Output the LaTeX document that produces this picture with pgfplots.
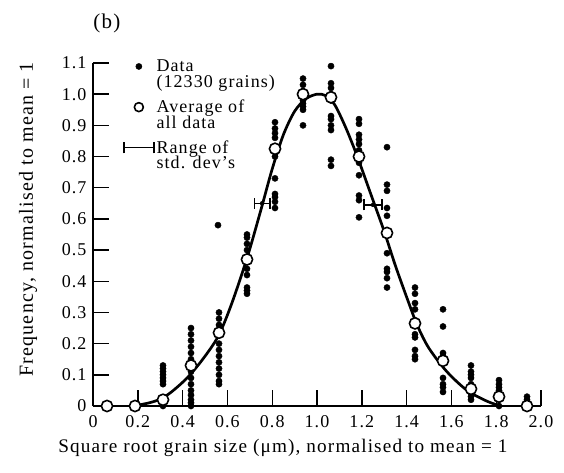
\documentclass[border=0pt]{standalone}
\usepackage{fontspec}
\setmainfont{Liberation Serif}[LetterSpace=6]
\usepackage{pgfplots}
\usepackage{pgfplotstable}
\pgfplotsset{compat=1.18}

\pgfplotstableread{
x y
0.0625 0.0
0.0625 0.005
0.1875 0.0
0.3125 0.13
0.3125 0.12
0.3125 0.11
0.3125 0.10
0.3125 0.09
0.3125 0.08
0.3125 0.07
0.3125 0.02
0.3125 0.01
0.3125 0.0
0.4375 0.25
0.4375 0.23
0.4375 0.21
0.4375 0.19
0.4375 0.17
0.4375 0.15
0.4375 0.11
0.4375 0.09
0.4375 0.07
0.4375 0.05
0.4375 0.035
0.4375 0.02
0.4375 0.01
0.4375 0.0
0.5625 0.30
0.5625 0.28
0.5625 0.26
0.5625 0.24
0.5625 0.20
0.5625 0.18
0.5625 0.16
0.5625 0.14
0.5625 0.12
0.5625 0.10
0.5625 0.08
0.5625 0.07
0.558 0.58
0.6875 0.55
0.6875 0.54
0.6875 0.52
0.6875 0.50
0.6875 0.44
0.6875 0.42
0.6875 0.38
0.6875 0.37
0.6875 0.36
0.8125 0.91
0.8125 0.89
0.8125 0.875
0.8125 0.86
0.8125 0.80
0.8125 0.73
0.8125 0.68
0.8125 0.67
0.8125 0.655
0.8125 0.635
0.9375 1.05
0.9375 1.03
0.9375 1.01
0.9375 0.98
0.9375 0.97
0.9375 0.96
0.9375 0.95
0.9375 0.90
1.0625 1.09
1.0625 1.035
1.0625 1.02
1.0625 1.00
1.0625 0.98
1.0625 0.93
1.0625 0.92
1.0625 0.90
1.0625 0.885
1.0625 0.79
1.0625 0.77
1.1875 0.92
1.1875 0.905
1.1875 0.87
1.1875 0.855
1.1875 0.84
1.1875 0.82
1.1875 0.78
1.1875 0.74
1.1875 0.675
1.1875 0.66
1.1875 0.605
1.3125 0.83
1.3125 0.71
1.3125 0.69
1.3125 0.635
1.3125 0.61
1.3125 0.49
1.3125 0.44
1.3125 0.43
1.3125 0.41
1.3125 0.38
1.4375 0.38
1.4375 0.36
1.4375 0.33
1.4375 0.31
1.4375 0.275
1.4375 0.23
1.4375 0.22
1.4375 0.18
1.4375 0.16
1.4375 0.15
1.5625 0.31
1.5625 0.255
1.5625 0.17
1.5625 0.16
1.5625 0.14
1.5625 0.09
1.5625 0.07
1.5625 0.06
1.5625 0.045
1.6875 0.13
1.6875 0.11
1.6875 0.10
1.6875 0.09
1.6875 0.07
1.6875 0.06
1.6875 0.05
1.6875 0.04
1.6875 0.03
1.6875 0.02
1.8125 0.083
1.8125 0.07
1.8125 0.06
1.8125 0.05
1.8125 0.04
1.8125 0.03
1.8125 0.02
1.8125 0.0
1.9375 0.03
1.9375 0.02
1.9375 0.01
1.9375 0.0
}\dotdata

\pgfplotstableread{
x y
0.0625 0.0
0.1875 0.0
0.3125 0.02
0.4375 0.13
0.5625 0.235
0.6875 0.47
0.8125 0.825
0.9375 1.0
1.0625 0.99
1.1875 0.80
1.3125 0.555
1.4375 0.265
1.5625 0.145
1.6875 0.055
1.8125 0.03
1.9375 0.0
}\avgdata

\pgfplotstableread{
x y
0.18 0.0
0.25 0.01
0.30 0.022
0.35 0.045
0.42 0.09
0.49 0.15
0.56 0.225
0.62 0.33
0.69 0.48
0.75 0.63
0.80 0.76
0.85 0.87
0.90 0.945
0.95 0.985
1.00 1.0
1.04 0.995
1.08 0.965
1.13 0.89
1.18 0.80
1.24 0.68
1.30 0.56
1.35 0.45
1.41 0.33
1.45 0.255
1.50 0.185
1.58 0.11
1.67 0.05
1.76 0.015
1.82 0.0
}\curvedata

\newcommand{\twolines}[2]{\vbox{\baselineskip=15.5pt\lineskiplimit=-20pt\hbox{#1}\hbox{#2}}}

\begin{document}
\begin{tikzpicture}[x=1pt,y=1pt]
\useasboundingbox (-93,-66) rectangle (471,406);
\begin{axis}[
  at={(0,0)}, anchor=south west,
  scale only axis, width=448pt, height=343pt,
  xmin=0, xmax=2, ymin=0, ymax=1.1,
  clip=false,
  axis x line*=bottom, axis y line*=left,
  axis line style={line width=1.8pt, -},
  xtick={0,0.2,0.4,0.6,0.8,1.0,1.2,1.4,1.6,1.8,2.0},
  xticklabels={0,0.2,0.4,0.6,0.8,1.0,1.2,1.4,1.6,1.8,2.0},
  ytick={0,0.1,0.2,0.3,0.4,0.5,0.6,0.7,0.8,0.9,1.0,1.1},
  yticklabels={0,0.1,0.2,0.3,0.4,0.5,0.6,0.7,0.8,0.9,1.0,1.1},
  tick align=inside, major tick length=16pt,
  tick style={line width=1.4pt, black},
  ticklabel style={font=\fontsize{18}{18}\selectfont},
  xticklabel style={yshift=-6pt},
  yticklabel style={xshift=-3pt},
  xlabel={Square root grain size (μm), normalised to mean = 1},
  ylabel={Frequency, normalised to mean = 1},
  every axis x label/.style={at={(axis description cs:0.424,-0.137)}, anchor=base, font=\fontsize{19.2}{19.2}\selectfont},
  every axis y label/.style={at={(axis description cs:-0.134,0.544)}, rotate=90, anchor=base, font=\fontsize{20}{20}\selectfont},
  legend style={at={(axis cs:0.134,1.1097)}, anchor=north west, draw=none, fill=none,
    font=\fontsize{18}{15}\selectfont, cells={anchor=base west}, row sep=11pt,
    inner sep=0pt, column sep=2pt, nodes={inner sep=0pt}},
]
\addplot[black, line width=2.7pt, smooth, forget plot] table {\curvedata};
\addplot[only marks, mark=*, mark size=3.1pt, black,
  legend image code/.code={\fill[black] (15pt,21pt) circle (3.1pt);}] table {\dotdata};
\addlegendentry{\twolines{Data}{(12330 grains)}}
\addplot[only marks, mark=*, mark size=5.6pt, mark options={fill=white, draw=black, line width=1.6pt},
  legend image code/.code={\draw[black, fill=white, line width=1.6pt] (15pt,21pt) circle (4.5pt);}] table {\avgdata};
\addlegendentry{\twolines{Average of}{all data}}
\addplot[only marks, mark=none, black,
  error bars/.cd, x dir=both, x explicit, error mark=|,
  error bar style={line width=1.3pt, black},
  error mark options={line width=1.3pt, mark size=5.5pt, black},
  /pgfplots/legend image code/.code={\draw[black, line width=1.1pt] (0pt,21pt) -- (30pt,21pt); \draw[black, line width=1.3pt] (0pt,15.5pt) -- (0pt,26.5pt) (30pt,15.5pt) -- (30pt,26.5pt);}]
  coordinates {(0.755,0.65) +- (0.035,0) (1.25,0.645) +- (0.04,0)};
\addlegendentry{\twolines{Range of}{std. dev's}}
\node[font=\fontsize{21}{21}\selectfont, anchor=base] at (rel axis cs:0.031,1.102) {(b)};
\end{axis}
\end{tikzpicture}
\end{document}
